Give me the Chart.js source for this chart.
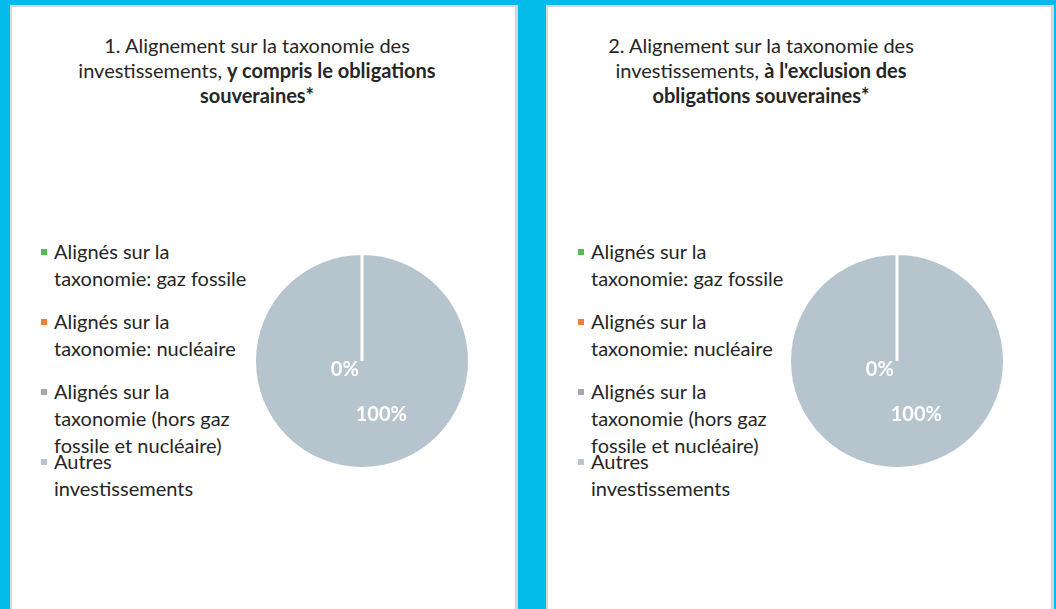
<!DOCTYPE html>
<html lang="fr">
<head>
<meta charset="utf-8">
<script src="https://cdn.jsdelivr.net/npm/chart.js@4.4.1/dist/chart.umd.min.js"></script>
<style>
    html, body { margin: 0; padding: 0; }
    body {
        width: 1056px;
        height: 609px;
        background: #02bbe8;
        position: relative;
        overflow: hidden;
        font-family: Lato, "Noto Sans", sans-serif;
        color: #262626;
    }
    .panel {
        position: absolute;
        top: 5px;
        width: 503px;
        height: 620px;
        background: #fff;
        border: 2px solid #d6d6d6;
        border-right-width: 3px;
    }
    .title {
        position: absolute;
        top: 33px;
        width: 440px;
        text-align: center;
        font-size: 20px;
        line-height: 25px;
    }
    .title b { font-weight: 700; }
    .legend {
        position: absolute;
        top: 238px;
        width: 215px;
        font-size: 20px;
        line-height: 27px;
    }
    .legend-item {
        position: absolute;
        left: 0;
        white-space: nowrap;
    }
    .legend-item .box {
        position: absolute;
        left: 0;
        top: 11px;
        width: 6px;
        height: 6px;
    }
    .legend-item .txt { margin-left: 13px; }
    .pie {
        position: absolute;
        top: 252px;
        width: 218px;
        height: 218px;
    }
</style>
</head>
<body>
<div class="panel" id="panel-1" style="left:10px"></div>
<div class="panel" id="panel-2" style="left:546px"></div>

<div class="title" style="left:37px">1. Alignement sur la taxonomie des<br>investissements, <b>y compris le obligations</b><br><b>souveraines*</b></div>
<div class="title" style="left:541px">2. Alignement sur la taxonomie des<br>investissements, <b>à l'exclusion des</b><br><b>obligations souveraines*</b></div>

<div class="legend" id="legend-1" style="left:41px"></div>
<div class="legend" id="legend-2" style="left:578px"></div>

<div class="pie" style="left:253px"><canvas id="pie-1"></canvas></div>
<div class="pie" style="left:788px"><canvas id="pie-2"></canvas></div>

<script>
// categories (legend lines as Excel wraps them)
const categories = [
    ["Alignés sur la", "taxonomie: gaz fossile"],
    ["Alignés sur la", "taxonomie: nucléaire"],
    ["Alignés sur la", "taxonomie (hors gaz", "fossile et nucléaire)"],
    ["Autres", "investissements"]
];
// share of investments, in %
const valuesInclSovereign = [0, 0, 0, 100];
const valuesExclSovereign = [0, 0, 0, 100];

const sliceColors = ["#4fbf4f", "#f07f38", "#a6a6a6", "#b6c4ce"];

(function () {
    function buildLegend(el) {
        categories.forEach(function (lines, i) {
            const item = document.createElement("div");
            item.className = "legend-item";
            item.style.top = (i * 70) + "px";
            const box = document.createElement("span");
            box.className = "box";
            box.style.background = sliceColors[i];
            const txt = document.createElement("div");
            txt.className = "txt";
            txt.innerHTML = lines.join("<br>");
            item.appendChild(box);
            item.appendChild(txt);
            el.appendChild(item);
        });
    }

    // data labels drawn the way Excel placed them
    const pctLabels = {
        id: "pctLabels",
        afterDatasetsDraw: function (chart) {
            const ctx = chart.ctx;
            const data = chart.data.datasets[0].data;
            const total = data.reduce(function (a, b) { return a + b; }, 0);
            const meta = chart.getDatasetMeta(0);
            let zeroDone = false;
            ctx.save();
            ctx.fillStyle = "#ffffff";
            ctx.font = "bold 20px Lato, 'Noto Sans', sans-serif";
            ctx.textAlign = "center";
            ctx.textBaseline = "middle";
            meta.data.forEach(function (arc, i) {
                const v = data[i];
                const r = arc.outerRadius;
                const label = Math.round(v / total * 100) + "%";
                let x, y;
                if (v === 0) {
                    if (zeroDone) return;
                    zeroDone = true;
                    x = arc.x - 0.16 * r;
                    y = arc.y + 0.08 * r;
                } else {
                    const c = arc.getCenterPoint();
                    x = c.x + 0.18 * r;
                    y = c.y;
                }
                ctx.fillText(label, x, y);
            });
            ctx.restore();
        }
    };

    function makePie(id, values) {
        return new Chart(document.getElementById(id), {
            type: "pie",
            data: {
                labels: categories.map(function (c) { return c.join(" "); }),
                datasets: [{
                    data: values,
                    backgroundColor: sliceColors,
                    borderColor: "#ffffff",
                    borderWidth: 3
                }]
            },
            options: {
                responsive: true,
                maintainAspectRatio: false,
                animation: false,
                layout: { padding: 0 },
                plugins: {
                    legend: { display: false },
                    tooltip: { enabled: false }
                }
            },
            plugins: [pctLabels]
        });
    }

    buildLegend(document.getElementById("legend-1"));
    buildLegend(document.getElementById("legend-2"));
    makePie("pie-1", valuesInclSovereign);
    makePie("pie-2", valuesExclSovereign);
})();
</script>
</body>
</html>
